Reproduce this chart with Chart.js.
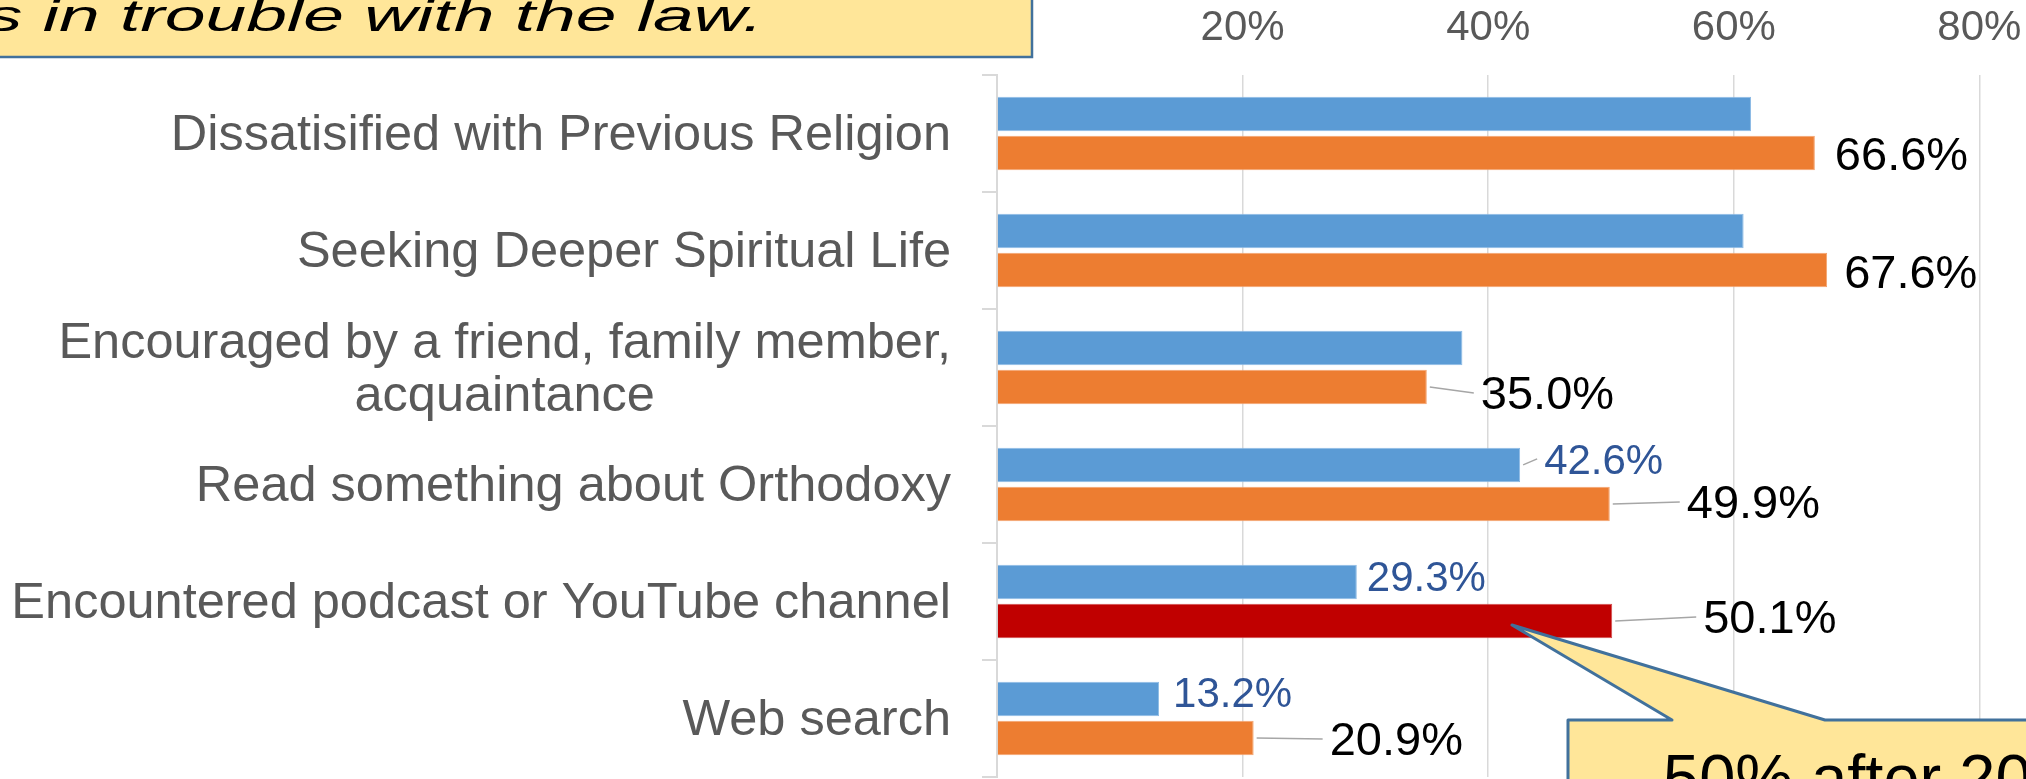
<!DOCTYPE html>
<html>
<head>
<meta charset="utf-8">
<script src="https://cdn.jsdelivr.net/npm/chart.js@4"></script>
<style>
    html, body { margin: 0; padding: 0; background: #fff; }
    #wrap { width: 2026px; height: 779px; overflow: hidden; position: relative; }
</style>
</head>
<body>
<div id="wrap"><canvas id="reasonsChart" width="2300" height="779"></canvas></div>
<script>
// chart data
const categories = [
    'Dissatisified with Previous Religion',
    'Seeking Deeper Spiritual Life',
    ['Encouraged by a friend, family member,', 'acquaintance'],
    'Read something about Orthodoxy',
    'Encountered podcast or YouTube channel',
    'Web search'
];
const earlierValues = [61.4, 60.8, 37.9, 42.6, 29.3, 13.2];
const recentValues = [66.6, 67.6, 35.0, 49.9, 50.1, 20.9];
const earlierLabelShown = [false, false, false, true, true, true];
const recentLabelShown = [true, true, true, true, true, true];
const xTickValues = [0, 20, 40, 60, 80, 100];

// label placement (offset from bar end / bar centre)
const earlierLabelDx = [0, 0, 0, 24, 10, 14];
const earlierLabelDy = [0, 0, 0, -3, -3, -4];
const recentLabelDx = [20, 17, 54, 77, 91, 76];
const recentLabelDy = [4, 5, 9, 1, -1, 4];

const FONT = '"Liberation Sans", Arial, sans-serif';
const recentColors = recentValues.map((v, i) => i === 4 ? '#C00000' : '#ED7D31');
const recentBorders = recentValues.map((v, i) => i === 4 ? '#D24B4B' : '#F4A46F');

// category labels, right aligned; wrapped lines centred on each other
const categoryLabels = {
    id: 'categoryLabels',
    afterDraw(chart) {
        const ctx = chart.ctx;
        const yScale = chart.scales.y;
        const right = 951;
        const lineGap = 53;
        ctx.save();
        ctx.font = '50.5px ' + FONT;
        ctx.fillStyle = '#595959';
        ctx.textBaseline = 'middle';
        categories.forEach((label, i) => {
            const y = yScale.getPixelForValue(i) + 3;
            const lines = Array.isArray(label) ? label : [label];
            if (lines.length === 1) {
                ctx.textAlign = 'right';
                ctx.fillText(lines[0], right, y);
                return;
            }
            const w = Math.max(...lines.map(l => ctx.measureText(l).width));
            ctx.textAlign = 'center';
            lines.forEach((l, k) => {
                ctx.fillText(l, right - w / 2, y + (k - (lines.length - 1) / 2) * lineGap);
            });
        });
        ctx.restore();
    }
};

// value labels at bar ends, with leader lines where they sit further away
const valueLabels = {
    id: 'valueLabels',
    afterDatasetsDraw(chart) {
        const ctx = chart.ctx;
        const setups = [
            { shown: earlierLabelShown, dx: earlierLabelDx, dy: earlierLabelDy, color: '#2F5597', size: 42 },
            { shown: recentLabelShown, dx: recentLabelDx, dy: recentLabelDy, color: '#000000', size: 47 }
        ];
        ctx.save();
        ctx.textBaseline = 'middle';
        ctx.textAlign = 'left';
        setups.forEach((s, d) => {
            const meta = chart.getDatasetMeta(d);
            const values = chart.data.datasets[d].data;
            meta.data.forEach((bar, i) => {
                if (!s.shown[i]) return;
                const lx = bar.x + s.dx[i];
                const ly = bar.y + s.dy[i];
                if (s.dx[i] >= 24) {
                    ctx.strokeStyle = '#A6A6A6';
                    ctx.lineWidth = 1.5;
                    ctx.beginPath();
                    ctx.moveTo(bar.x + 3, bar.y);
                    ctx.lineTo(lx - 7, ly - 3);
                    ctx.stroke();
                }
                ctx.font = s.size + 'px ' + FONT;
                ctx.fillStyle = s.color;
                ctx.fillText(values[i].toFixed(1) + '%', lx, ly);
            });
        });
        ctx.restore();
    }
};

// slide pieces around the chart: title strip and callout
const slideShapes = {
    id: 'slideShapes',
    afterDraw(chart) {
        const ctx = chart.ctx;
        ctx.save();
        // title strip
        ctx.fillStyle = '#FFE699';
        ctx.fillRect(-5, -5, 1037, 62);
        ctx.strokeStyle = '#41719C';
        ctx.lineWidth = 2.5;
        ctx.strokeRect(-5, -5, 1037, 62);
        ctx.font = 'italic 44px ' + FONT;
        ctx.fillStyle = '#000';
        ctx.textAlign = 'left';
        ctx.textBaseline = 'alphabetic';
        const title = 's in trouble with the law.';
        const wPre = ctx.measureText('s in ').width;
        const wFull = ctx.measureText(title).width;
        const sx = (763 - 120) / (wFull - wPre);
        ctx.save();
        ctx.translate(120 - wPre * sx, 31);
        ctx.scale(sx, 1);
        ctx.fillText(title, 0, 0);
        ctx.restore();

        // callout pointing at the highlighted bar
        ctx.beginPath();
        ctx.moveTo(1512, 625);
        ctx.lineTo(1825, 720);
        ctx.lineTo(2400, 720);
        ctx.lineTo(2400, 900);
        ctx.lineTo(1568, 900);
        ctx.lineTo(1568, 720);
        ctx.lineTo(1672, 720);
        ctx.closePath();
        ctx.fillStyle = '#FFE699';
        ctx.fill();
        ctx.strokeStyle = '#41719C';
        ctx.lineWidth = 3;
        ctx.lineJoin = 'round';
        ctx.stroke();
        ctx.font = '65px ' + FONT;
        ctx.fillStyle = '#000';
        ctx.fillText('50% after 2020', 1663, 800);
        ctx.restore();
    }
};

const ctx = document.getElementById('reasonsChart').getContext('2d');
new Chart(ctx, {
    type: 'bar',
    data: {
        labels: categories,
        datasets: [
            {
                label: 'Earlier converts',
                data: earlierValues,
                backgroundColor: '#5B9BD5',
                borderColor: '#8DBBE5',
                borderWidth: 1,
                categoryPercentage: 0.669,
                barPercentage: 0.879
            },
            {
                label: 'Recent converts',
                data: recentValues,
                backgroundColor: recentColors,
                borderColor: recentBorders,
                borderWidth: 1,
                categoryPercentage: 0.669,
                barPercentage: 0.879
            }
        ]
    },
    options: {
        indexAxis: 'y',
        responsive: false,
        animation: false,
        devicePixelRatio: 1,
        layout: { padding: { top: 0, right: 75, bottom: 2, left: 0 } },
        plugins: {
            legend: { display: false },
            tooltip: { enabled: false }
        },
        scales: {
            x: {
                type: 'linear',
                position: 'top',
                min: xTickValues[0],
                max: xTickValues[xTickValues.length - 1],
                afterBuildTicks: scale => {
                    scale.ticks = xTickValues.map(v => ({ value: v }));
                },
                afterFit: scale => { scale.height = 75; },
                ticks: {
                    callback: v => v + '%',
                    color: '#595959',
                    font: { family: FONT, size: 42 },
                    padding: 21
                },
                grid: { color: '#D9D9D9', lineWidth: 1.5, drawTicks: false },
                border: { display: false }
            },
            y: {
                type: 'category',
                position: 'left',
                afterFit: scale => { scale.width = 997; },
                ticks: { display: false },
                grid: {
                    display: true,
                    drawOnChartArea: false,
                    drawTicks: true,
                    tickLength: 15,
                    offset: true,
                    color: '#D9D9D9',
                    lineWidth: 2
                },
                border: { display: true, color: '#D9D9D9', width: 2 }
            }
        }
    },
    plugins: [categoryLabels, valueLabels, slideShapes]
});
</script>
</body>
</html>
